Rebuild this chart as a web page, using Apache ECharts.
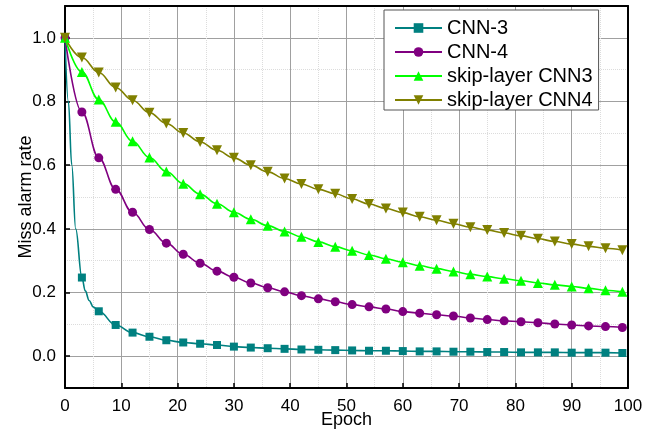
<!DOCTYPE html>
<html>
<head>
<meta charset="utf-8">
<script src="https://cdn.jsdelivr.net/npm/echarts@6/dist/echarts.min.js"></script>
<style>
  html, body { margin: 0; padding: 0; background: #fff; }
  #missRate { width: 659px; height: 431px; }
</style>
</head>
<body>
<div id="missRate"></div>
<script>
// epochs where the markers sit
var epochs = [0, 3, 6, 9, 12, 15, 18, 21, 24, 27, 30, 33, 36, 39, 42, 45, 48, 51,
  54, 57, 60, 63, 66, 69, 72, 75, 78, 81, 84, 87, 90, 93, 96, 99];

var cnn3 = [1.0, 0.247, 0.141, 0.098, 0.074, 0.061, 0.050, 0.043, 0.039, 0.035, 0.030,
  0.027, 0.025, 0.023, 0.021, 0.020, 0.019, 0.018, 0.017, 0.017, 0.016, 0.015, 0.015,
  0.014, 0.014, 0.013, 0.013, 0.012, 0.012, 0.012, 0.011, 0.011, 0.011, 0.010];
var cnn4 = [1.0, 0.767, 0.623, 0.524, 0.452, 0.398, 0.355, 0.320, 0.292, 0.267, 0.248,
  0.230, 0.215, 0.202, 0.190, 0.180, 0.171, 0.162, 0.155, 0.148, 0.140, 0.135, 0.130,
  0.126, 0.120, 0.115, 0.111, 0.108, 0.105, 0.101, 0.098, 0.095, 0.093, 0.090];
var skip3 = [1.0, 0.893, 0.806, 0.736, 0.675, 0.624, 0.580, 0.542, 0.509, 0.479, 0.452,
  0.430, 0.410, 0.392, 0.375, 0.359, 0.344, 0.331, 0.318, 0.306, 0.295, 0.284, 0.275,
  0.266, 0.257, 0.250, 0.243, 0.237, 0.230, 0.224, 0.219, 0.213, 0.207, 0.202];
var skip4 = [1.0, 0.938, 0.891, 0.844, 0.804, 0.765, 0.731, 0.701, 0.673, 0.647, 0.623,
  0.600, 0.579, 0.558, 0.541, 0.524, 0.510, 0.494, 0.478, 0.464, 0.451, 0.438, 0.427,
  0.416, 0.405, 0.396, 0.387, 0.378, 0.369, 0.360, 0.352, 0.345, 0.339, 0.333];

// CNN-3 fitted curve: extra curve-only points (no marker) in the steep part
var cnn3CurveX = [0.6, 1.2, 1.9, 3.6, 4.3, 5.0];
var cnn3CurveY = [0.80, 0.60, 0.40, 0.205, 0.175, 0.155];

var names = ['CNN-3', 'CNN-4', 'skip-layer CNN3', 'skip-layer CNN4'];
var yTicks = [0, 0.2, 0.4, 0.6, 0.8, 1.0];

var font = 'Liberation Sans, Arial, sans-serif';

function pairs(xs, ys) {
  return xs.map(function (x, i) { return [x, ys[i]]; });
}

// markers plus curve-only points, sorted by x
function withCurve(xs, ys, cx, cy) {
  var pts = pairs(xs, ys).map(function (p) { return { value: p }; });
  pairs(cx, cy).forEach(function (p) { pts.push({ value: p, symbol: 'none' }); });
  pts.sort(function (a, b) { return a.value[0] - b.value[0]; });
  return pts;
}

function makeSeries(name, data, color, symbol, size, rotate) {
  return {
    name: name,
    type: 'line',
    data: data,
    smooth: 0.4,
    smoothMonotone: 'x',
    symbol: symbol,
    symbolSize: size,
    symbolRotate: rotate || 0,
    showAllSymbol: true,
    lineStyle: { color: color, width: 1.6 },
    itemStyle: { color: color },
    emphasis: { disabled: true }
  };
}

var chart = echarts.init(document.getElementById('missRate'));
var option = {
  animation: false,
  grid: {
    left: 65, right: 31, top: 6, bottom: 43,
    show: false,
    containLabel: false,
    outerBoundsMode: 'none'
  },
  legend: {
    data: names,
    orient: 'vertical',
    left: 384,
    top: 10,
    padding: [8, 6, 0, 10],
    itemGap: 4,
    itemWidth: 47,
    itemHeight: 12,
    backgroundColor: '#fff',
    borderColor: '#555',
    borderWidth: 1,
    textStyle: { fontFamily: font, fontSize: 20, color: '#000' }
  },
  xAxis: [{
    type: 'value',
    min: 0, max: 100, interval: 10,
    name: 'Epoch',
    nameLocation: 'middle',
    nameGap: 23,
    nameMoveOverlap: false,
    nameTextStyle: { fontFamily: font, fontSize: 18, color: '#000' },
    axisLine: { show: true, onZero: false, lineStyle: { color: '#000', width: 2 } },
    axisTick: { show: true, inside: true, length: 5, lineStyle: { color: '#000', width: 1.5 } },
    axisLabel: { fontFamily: font, fontSize: 17, color: '#000', margin: 10 },
    splitLine: { show: true, lineStyle: { color: '#a0a0a0', width: 1 } },
    minorTick: { show: false, splitNumber: 2 },
    minorSplitLine: { show: true, lineStyle: { color: '#dcdcdc', type: 'dotted', width: 1 } }
  }, {
    type: 'value',
    position: 'top',
    min: 0, max: 100, interval: 10,
    axisLine: { show: true, onZero: false, lineStyle: { color: '#000', width: 2 } },
    axisTick: { show: false },
    axisLabel: { show: false },
    splitLine: { show: false }
  }],
  yAxis: [{
    type: 'value',
    min: -0.1, max: 1.1,
    name: 'Miss alarm rate',
    nameLocation: 'middle',
    nameGap: 30,
    nameMoveOverlap: false,
    nameTextStyle: { fontFamily: font, fontSize: 18, color: '#000' },
    axisLine: { show: true, onZero: false, lineStyle: { color: '#000', width: 2 } },
    axisTick: { show: true, inside: true, length: 5, customValues: yTicks,
      lineStyle: { color: '#000', width: 1.5 } },
    axisLabel: { fontFamily: font, fontSize: 17, color: '#000', margin: 9,
      customValues: yTicks,
      formatter: function (v) { return v.toFixed(1); } },
    splitLine: { show: true, lineStyle: { color: '#a0a0a0', width: 1 } }
  }, {
    // right border + dotted minor grid at the odd tenths
    type: 'value',
    position: 'right',
    min: -0.1, max: 1.1, interval: 0.2,
    axisLine: { show: true, onZero: false, lineStyle: { color: '#000', width: 2 } },
    axisTick: { show: false },
    axisLabel: { show: false },
    splitLine: { show: true, lineStyle: { color: '#dcdcdc', type: 'dotted', width: 1 } }
  }],
  series: [
    makeSeries(names[0], withCurve(epochs, cnn3, cnn3CurveX, cnn3CurveY), '#008080', 'rect', 8),
    makeSeries(names[1], pairs(epochs, cnn4), '#800080', 'circle', 9),
    makeSeries(names[2], pairs(epochs, skip3), '#00ff00', 'triangle', 10),
    makeSeries(names[3], pairs(epochs, skip4), '#808000', 'triangle', 10, 180)
  ]
};
chart.setOption(option);
window.onresize = chart.resize;
</script>
</body>
</html>
